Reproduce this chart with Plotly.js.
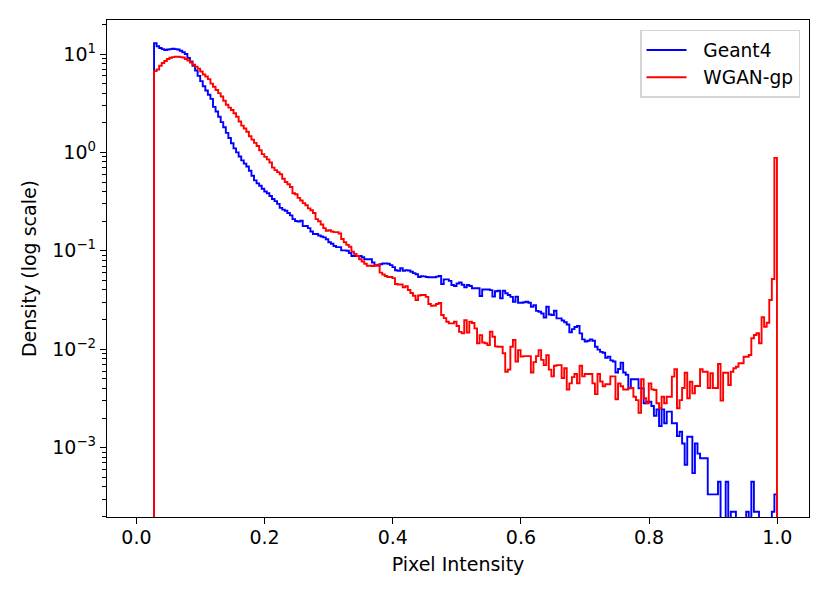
<!DOCTYPE html>
<html>
<head>
<meta charset="utf-8">
<script src="https://cdn.plot.ly/plotly-3.0.1.min.js"></script>
<style>html,body{margin:0;padding:0;background:#fff}</style>
</head>
<body>
<div id="chart" style="width:830px;height:598px"></div>
<script>
// histogram setup: bins of 0.004, first filled bin starts near 0.0275
const binWidth = 0.004;
const firstEdge = 0.0275;

// density per bin (0 = empty bin)
const geant4 = [
  12.85,12.0,11.5,11.2,11.0,11.1,11.2,11.3,11.2,11.1,10.8,10.4,10.0,9.1,8.4,7.6,6.8,6.0,5.3,4.7,
  4.25,3.85,3.5,2.9,2.6,2.3,2.03,1.8,1.58,1.4,1.24,1.1,1.0,.91,.83,.77,.72,.65,.58,.52,
  .485,.458,.427,.40,.385,.36,.336,.32,.30,.273,.262,.255,.242,.229,.21,.201,.198,.202,.178,.179,
  .17,.157,.148,.148,.143,.14,.137,.131,.122,.118,.112,.109,.109,.101,.101,.1,.095,.0885,.0885,.0885,
  .0885,.086,.082,.082,.082,.076,.0712,.0709,.0731,.0742,.0746,.0738,.0715,.0683,.0635,.0625,.0666,.0627,.0637,.0631,
  .0612,.0593,.0578,.0541,.0552,.055,.0542,.0538,.0538,.0538,.0546,.0554,.046,.0513,.0513,.0495,.0449,.0439,.0465,.0477,
  .0452,.0427,.0449,.0439,.0416,.0416,.0416,.0347,.0404,.0406,.0404,.0399,.0342,.0388,.0393,.0329,.0393,.037,.0355,.034,
  .0304,.0342,.0297,.0297,.03,.0304,.0297,.027,.028,.0245,.024,.0231,.021,.027,.0225,.0223,.0246,.0206,.0206,.0196,
  .0188,.0178,.0149,.016,.0168,.0172,.0145,.0126,.012,.0122,.0126,.0122,.0106,.0099,.0094,.0092,.0082,.0084,.0077,.0075,
  .0058,.0063,.0073,.0058,.0055,.0040,.00495,.00495,.00495,.0040,.0040,.00282,.00293,.00293,.00265,.0021,.00245,.00166,.00245,.00177,
  .00232,.00232,.00177,.00177,.00131,.00145,.0011,.00067,.00129,.00129,.00055,.0011,.00087,.00078,.00078,.00078,.000335,.000335,.000335,.000335,
  .00045,0,0,.00045,0,.000223,.000223,0,0,0,0,.000223,0,.00045,.000223,.000223,0,0,0,0,
  0,.000223,.000335
];
const wganGp = [
  6.7,6.95,7.6,8.1,8.5,8.9,9.15,9.3,9.4,9.38,9.3,9.2,8.9,8.6,8.2,7.8,7.45,7.1,6.65,6.2,
  5.9,5.55,5.0,4.65,4.3,4.0,3.7,3.35,3.05,2.85,2.7,2.5,2.3,2.06,1.87,1.75,1.62,1.46,1.35,1.25,
  1.16,1.05,.96,.90,.85,.79,.70,.66,.63,.60,.54,.50,.475,.445,.385,.375,.345,.325,.305,.29,
  .27,.258,.242,.21,.20,.185,.17,.16,.162,.157,.155,.155,.15,.132,.122,.115,.11,.098,.093,.0885,
  .082,.078,.074,.0705,.0705,.0701,.0708,.0722,.060,.0575,.0555,.0542,.0542,.0528,.046,.0455,.0455,.0426,.0436,.040,
  .0372,.035,.0316,.0352,.0356,.0356,.034,.0288,.0276,.0278,.0288,.0295,.0223,.0207,.019,.0183,.0183,.019,.0172,.015,
  .0145,.0197,.0148,.019,.0185,.0163,.0115,.0139,.0117,.0115,.011,.0151,.0134,.0107,.0106,.0106,.0091,.0059,.0062,.0106,
  .0124,.0075,.0098,.0084,.0085,.0085,.0085,.0058,.0074,.0085,.0098,.0078,.0069,.0087,.0062,.0053,.0068,.0069,.0069,.0051,
  .0064,.0039,.0045,.0052,.0056,.0045,.0068,.0053,.0056,.0056,.0056,.0045,.0035,.0056,.0047,.0042,.0044,.0044,.0053,.0053,
  .0031,.0045,.0042,.0039,.0039,.00403,.00403,.00329,.00304,.00226,.00495,.00317,.00282,.0045,.00391,.00385,.00282,.00251,.00329,.00282,
  .00329,.00329,.00526,.00625,.00251,.00304,.00403,.00577,.00317,.00467,.00356,.00423,.00423,.00625,.00591,.00591,.00403,.00569,.00403,.00403,
  .00707,.003,.00577,.00577,.00433,.00591,.0064,.00664,.00719,.00719,.00839,.00839,.00873,.01291,.01394,.01451,.01148,.0211,.01693,.0186,
  .03162,.05166,.88
];

const yTickVals = [0.001, 0.01, 0.1, 1, 10];
const yTickText = ['10<sup>\u22123</sup>', '10<sup>\u22122</sup>', '10<sup>\u22121</sup>', '10<sup>0</sup>', '10<sup>1</sup>'];
const xTickVals = [0, 0.2, 0.4, 0.6, 0.8, 1.0];

// log minor ticks 2..9 in each decade
const yMinorVals = [];
[1e-4, 1e-3, 1e-2, 1e-1, 1, 10].forEach(decade => {
    [2, 3, 4, 5, 6, 7, 8, 9].forEach(m => yMinorVals.push(m * decade));
});

// empty bins and the ends of the step outline have to run off the bottom of the log axis
const belowAxis = 1e-6;

function stepTrace(values, name, color) {
    const x = [firstEdge];
    const y = [belowAxis];
    values.forEach((v, i) => {
        x.push(firstEdge + i * binWidth);
        y.push(v > 0 ? v : belowAxis);
    });
    const lastEdge = firstEdge + values.length * binWidth;
    x.push(lastEdge, lastEdge);
    y.push(values[values.length - 1], belowAxis);
    return {
        x: x, y: y, name: name, type: 'scatter', mode: 'lines',
        line: { color: color, width: 1.9, shape: 'hv', simplify: false }
    };
}

const baseFont = { family: '"DejaVu Sans", sans-serif', size: 19, color: '#000' };

const layout = {
    width: 830, height: 598,
    paper_bgcolor: '#fff', plot_bgcolor: '#fff',
    font: baseFont,
    margin: { l: 107, r: 21, t: 20, b: 81, pad: 0 },
    showlegend: true,
    legend: {
        x: 0.9872, xanchor: 'right', y: 0.98, yanchor: 'top',
        bgcolor: 'rgba(255,255,255,0.8)', bordercolor: '#d5d5d5', borderwidth: 1.5,
        font: { family: baseFont.family, size: 18.6, color: '#000' },
        itemwidth: 40, tracegroupgap: 0
    },
    xaxis: {
        range: [-0.0459, 1.0495], tickmode: 'array', tickvals: xTickVals,
        ticktext: xTickVals.map(v => v.toFixed(1)),
        ticks: 'outside', ticklen: 6, tickwidth: 1.4, tickcolor: '#000',
        ticklabelstandoff: -3,
        showgrid: false, zeroline: false, showline: true, mirror: true,
        linecolor: '#000', linewidth: 1.4,
        title: { text: 'Pixel Intensity', font: { size: 19 }, standoff: 10 }
    },
    yaxis: {
        type: 'log', range: [-3.705, 1.3455], tickmode: 'array',
        tickvals: yTickVals, ticktext: yTickText,
        ticks: 'outside', ticklen: 6, tickwidth: 1.4, tickcolor: '#000',
        minor: { tickmode: 'array', tickvals: yMinorVals, ticks: 'outside', ticklen: 3.5, tickwidth: 1, tickcolor: '#000', showgrid: false },
        showgrid: false, zeroline: false, showline: true, mirror: true,
        linecolor: '#000', linewidth: 1.4,
        title: { text: 'Density (log scale)', font: { size: 19 }, standoff: 10 }
    }
};

Plotly.newPlot('chart', [
    stepTrace(geant4, '\u00A0\u00A0Geant4', '#0000ff'),
    stepTrace(wganGp, '\u00A0\u00A0WGAN-gp', '#ff0000')
], layout, { displayModeBar: false, responsive: false });
</script>
</body>
</html>
